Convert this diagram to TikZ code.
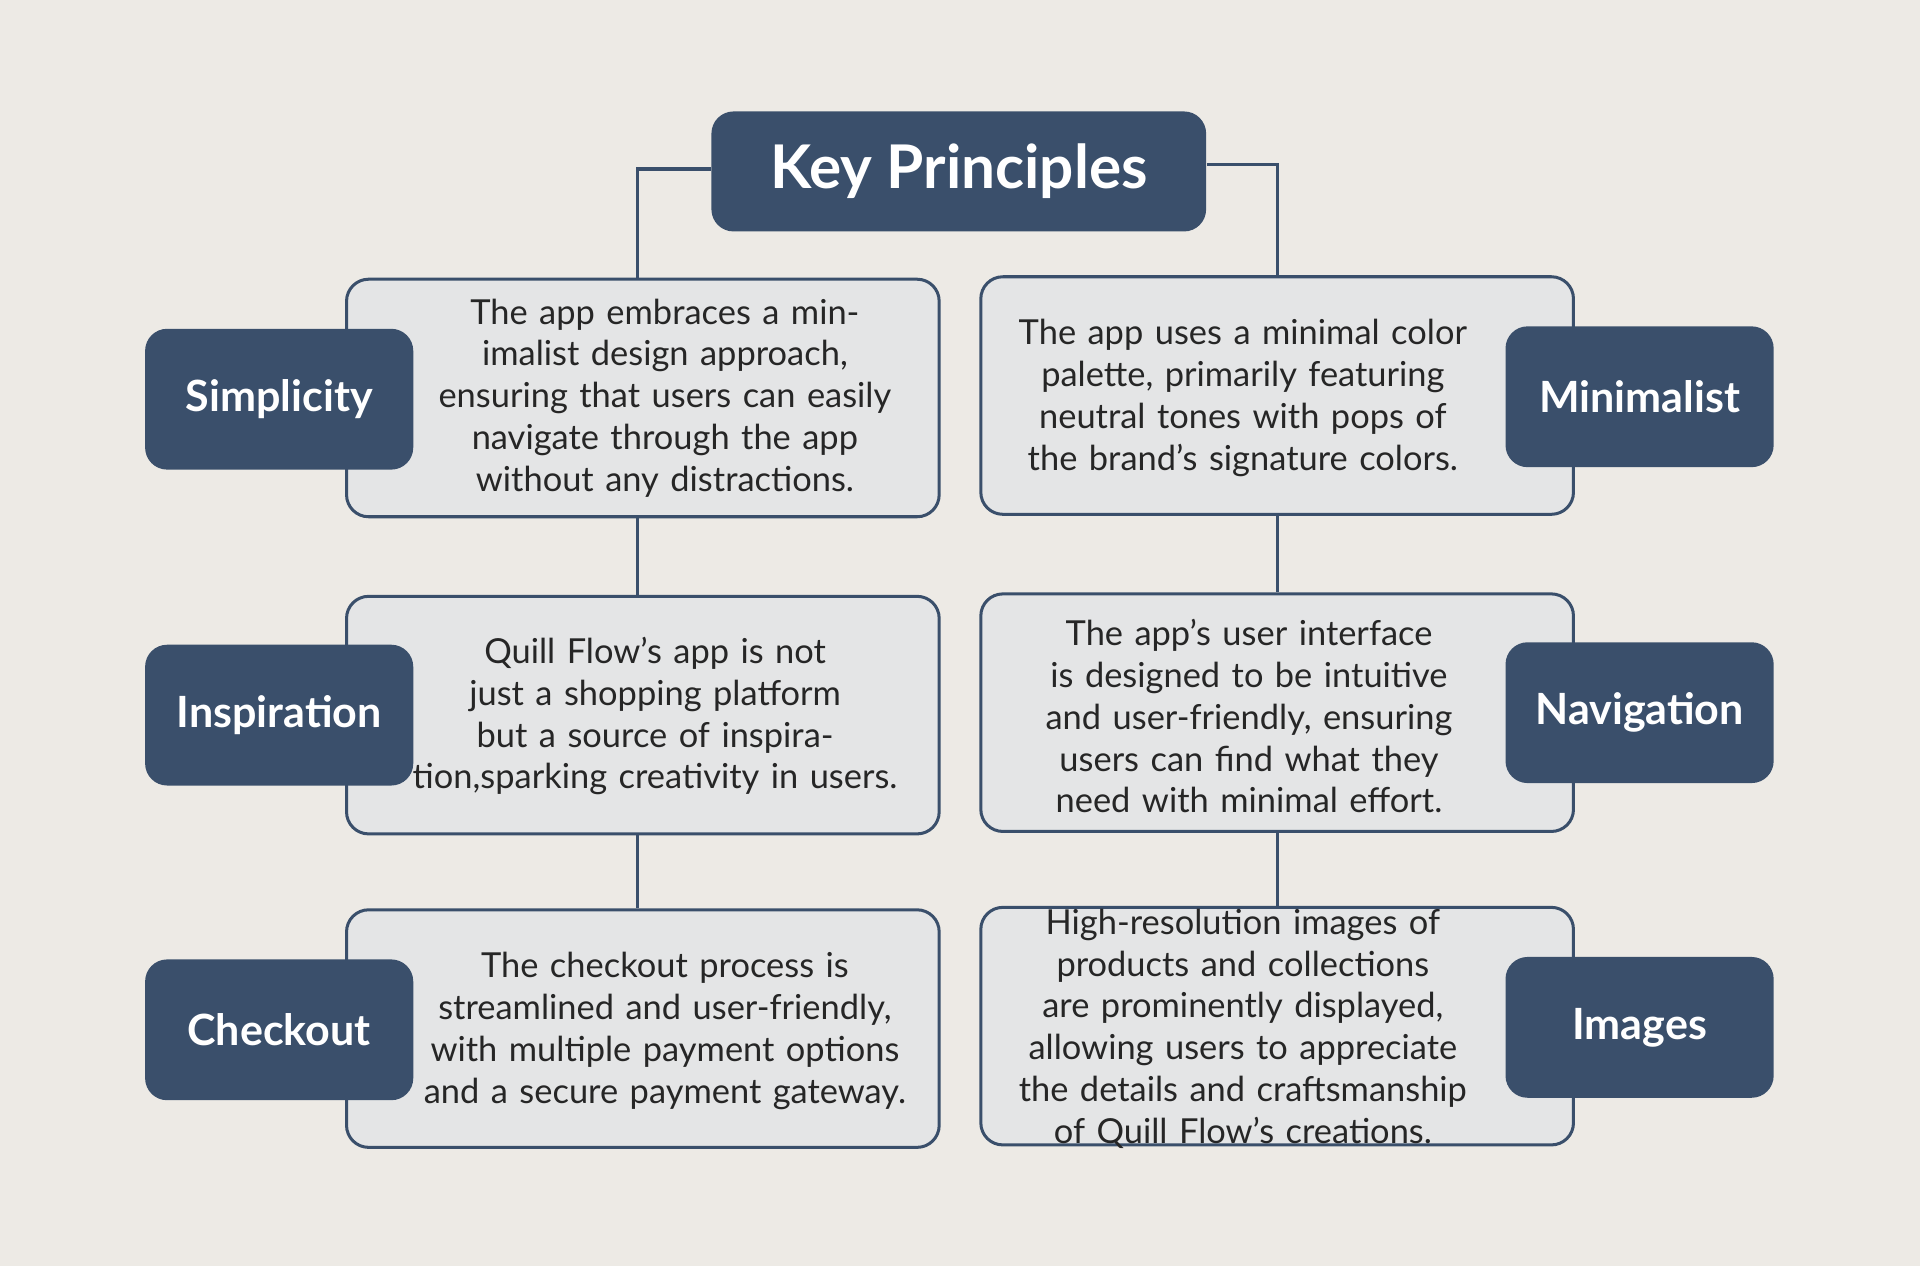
\documentclass[tikz,border=0pt]{standalone}
\usepackage{fontspec}
\setmainfont{Lato}
\usetikzlibrary{positioning}
\definecolor{bg}{HTML}{EDEAE5}
\definecolor{navy}{HTML}{3A4F6B}
\definecolor{pale}{HTML}{E4E5E6}
\begin{document}
\begin{tikzpicture}[x=0.1mm, y=-0.1mm,
  card/.style = {draw=navy, fill=pale, line width=0.7pt, rounded corners=1.8mm, minimum width=48.4mm, minimum height=19.4mm},
  tag/.style = {fill=navy, text=white, rounded corners=1.8mm, minimum width=21.9mm, minimum height=11.5mm, font=\fontsize{10}{12}\selectfont\bfseries},
  info/.style = {text width=40mm, align=center, inner sep=0pt, font=\fontsize{8}{9.7}\selectfont, text=black!85},
  link/.style = {draw=navy, line width=0.7pt}]
  \fill[bg] (0,0) rectangle (1568,1034);

  \node[fill=navy, text=white, rounded corners=1.8mm, minimum width=40.4mm, minimum height=9.8mm, font=\fontsize{14}{16}\selectfont\bfseries] (title) at (783,140) {Key Principles};

  % text cards
  \node[card] (c1) at (525,325) {};
  \node[card] (c2) at (525,584) {};
  \node[card] (c3) at (525,840) {};
  \node[card] (c4) at (1043,323) {};
  \node[card] (c5) at (1043,582) {};
  \node[card] (c6) at (1043,838) {};

  % connectors
  \draw[link] (title.west |- 0,138) -| (c1.north -| 521,0);
  \draw[link] (title.east |- 0,134) -| (c4.north);
  \draw[link] (c1.south -| 521,0) -- (c2.north -| 521,0);
  \draw[link] (c2.south -| 521,0) -- (c3.north -| 521,0);
  \draw[link] (c4) -- (c5);
  \draw[link] (c5) -- (c6);

  % labels
  \node[tag] (t1) at (228,326) {Simplicity};
  \node[tag] (t2) at (228,584) {Inspiration};
  \node[tag] (t3) at (228,841) {Checkout};
  \node[tag] (t4) at (1339,324) {Minimalist};
  \node[tag] (t5) at (1339,582) {Navigation};
  \node[tag] (t6) at (1339,839) {Images};

  % texts
  \node[info] (x1) at (543,325) {The app embraces a minimalist design approach, ensuring that users can easily navigate through the app without any distractions.};
  \node[info] (x2) at (535,585) {Quill Flow's app is not just a shopping platform but a source of inspiration,sparking creativity in users.};
  \node[info] (x3) at (543,842) {The checkout process is streamlined and user-friendly, with multiple payment options and a secure payment gateway.};
  \node[info] (x4) at (1015,325) {The app uses a minimal color palette, primarily featuring neutral tones with pops of the brand's signature colors.};
  \node[info] (x5) at (1020,585) {The app's user interface is designed to be intuitive and user-friendly, ensuring users can find what they need with minimal effort.};
  \node[info] (x6) at (1015,840) {High-resolution images of products and collections are prominently displayed, allowing users to appreciate the details and craftsmanship of Quill Flow's creations.};
\end{tikzpicture}
\end{document}
